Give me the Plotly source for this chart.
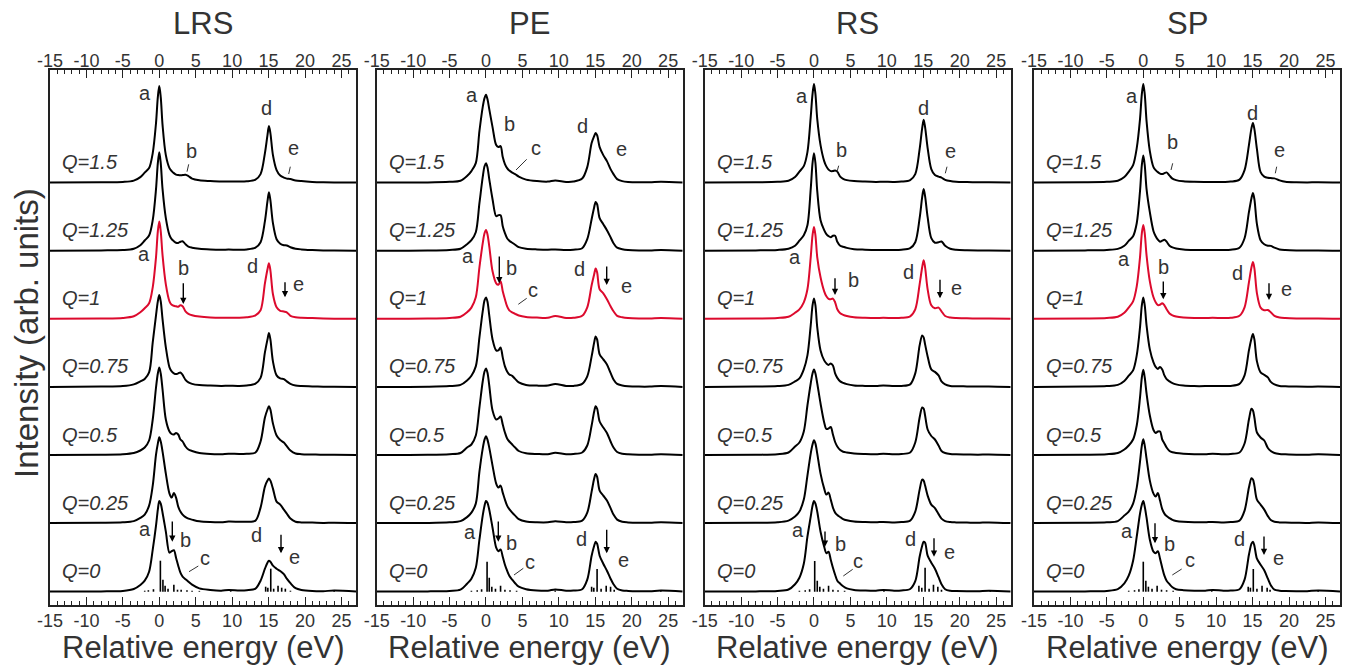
import plotly.graph_objects as go

# ---------------- data ----------------
E_GRID = [-15, -8, -5, -3.5, -2.6, -2.0, -1.4, -0.9, -0.45, -0.2,
          0.0, 0.2, 0.45, 0.9, 1.4, 1.7, 2.0, 2.3, 2.6, 2.9,
          3.2, 3.6, 4.0, 4.5, 5.5, 7.0, 8.5, 9.5, 11.0, 12.0,
          13.2, 13.9, 14.5, 14.85, 15.05, 15.25, 15.6, 16.1, 16.6, 17.1,
          17.5, 18.0, 18.7, 19.5, 21.0, 22.5, 24.0, 27.0]

Q_LABELS = ["Q=0", "Q=0.25", "Q=0.5", "Q=0.75", "Q=1", "Q=1.25", "Q=1.5"]
PANEL_TITLES = ["LRS", "PE", "RS", "SP"]
X_TICKS = [-15, -10, -5, 0, 5, 10, 15, 20, 25]

# LRS spectra (intensity, arb. units)
LRS_Q000 = [0.3, 0.3, 0.8, 2.7, 6.7, 11, 20, 42, 66, 82,
            90.7, 88, 79, 60, 39, 40.5, 41.5, 34, 26, 19,
            15, 12.5, 10, 7, 3.3, 1.7, 1, 1.8, 1.3, 1.5,
            3, 11, 23, 29, 31, 30, 26, 23, 20.7, 17.5,
            13, 8.5, 3.5, 1.7, 0.7, 0.5, 1.2, 0.3]
LRS_Q025 = [0.5, 0.8, 1.3, 2.5, 5.7, 9, 18, 38, 69, 80,
            86.3, 82, 72, 50, 30, 26, 30.5, 26, 17, 12,
            9, 6.5, 5, 4, 2.3, 1.5, 1.3, 2, 1.8, 1.8,
            3, 16, 37, 43, 45, 43, 35, 22, 19, 14,
            10, 5, 1.8, 1.2, 1, 0.7, 0.8, 0.5]
LRS_Q050 = [0.5, 0.8, 1.3, 2.5, 5, 8, 15, 36, 68, 82,
            88, 82, 66, 36, 24, 21.5, 21, 22.5, 21, 16,
            14, 9, 6, 4.5, 2.5, 1.5, 1.3, 1.8, 1.5, 1.8,
            3, 14, 38, 46, 49.3, 46, 32, 20, 15.5, 13,
            9.3, 5, 2, 1.3, 1, 0.7, 0.7, 0.5]
LRS_Q075 = [0.5, 0.8, 1.3, 3, 6, 8.5, 15, 45, 72, 86,
            92.3, 86, 68, 40, 20, 16, 14, 13.3, 14, 15,
            12.5, 7.5, 5, 3.5, 2.3, 1.8, 1.5, 1.6, 1.5, 2,
            3.8, 9.5, 35, 48, 54.3, 48, 26, 12, 9, 8.3,
            6, 3.5, 1.8, 1.3, 1, 0.7, 0.6, 0.5]
LRS_Q100 = [0.5, 0.8, 1.3, 3, 7, 11, 16, 32, 62, 88,
            97.7, 88, 64, 35, 18, 14.5, 13.5, 13, 12.5, 14,
            13, 8, 5.5, 4, 2.7, 1.8, 1.5, 1.6, 1.5, 2,
            4, 9, 36, 50, 56, 49, 25, 12, 8.5, 7.8,
            7, 3.5, 2, 1.5, 1.2, 0.8, 0.6, 0.5]
LRS_Q125 = [0.5, 0.8, 1.2, 2.5, 6, 10.7, 15.7, 31, 62, 88,
            99, 88, 62, 33, 16, 12, 10, 8.5, 8.3, 9.5,
            10, 7, 4.5, 3.5, 2.5, 1.8, 1.5, 1.6, 1.5, 1.8,
            3.5, 9, 30, 50, 59, 51, 28, 12, 7.5, 6,
            5.7, 4, 2.5, 1.8, 1.2, 0.8, 0.6, 0.5]
LRS_Q150 = [0.5, 0.8, 1.2, 2.5, 6, 10.5, 15, 30, 60, 86,
            97, 86, 58, 28, 15, 12, 10, 8.5, 8, 7.8,
            8, 8.3, 7, 4.5, 2.8, 2, 1.5, 1.6, 1.5, 1.8,
            3.5, 9, 30, 48, 57, 50, 28, 13, 7.5, 5.5,
            4.5, 4, 2.7, 2, 1.2, 0.8, 0.6, 0.5]

# PE spectra
PE_Q000 = [0.3, 0.3, 0.8, 2, 8, 13, 24, 52, 76, 86,
           90.7, 89, 82, 64, 44, 40.5, 42.3, 35, 27, 21,
           16, 12, 8.5, 5, 2.5, 1.2, 1, 2.3, 1, 1.2,
           2.5, 12, 36, 46, 50, 48, 36, 28, 21, 13,
           7.5, 3, 1.3, 0.8, 0.5, 0.5, 1.2, 0.3]
PE_Q025 = [0.5, 0.7, 1.3, 2.5, 6.5, 11, 20, 52, 75, 84,
           87.3, 84, 76, 58, 40, 36, 38, 31, 24, 18,
           14.5, 11, 8, 4.5, 2, 1.3, 1.3, 2.3, 1.3, 1.5,
           3, 11, 32, 45, 49.7, 47, 33, 28, 23, 15.5,
           9, 4, 1.8, 1.2, 0.8, 0.8, 1.3, 0.5]
PE_Q050 = [0.5, 0.7, 1.3, 2.5, 8, 11, 20, 48, 74, 84,
           87, 83, 70, 45, 36, 37, 39, 31, 23, 17,
           14, 11, 8, 4.5, 2.2, 1.5, 1.3, 2.7, 1.3, 1.5,
           3, 10, 30, 44, 49.3, 47, 34, 28, 22.5, 14,
           8, 3.5, 1.8, 1.2, 0.8, 0.8, 1.3, 0.5]
PE_Q075 = [0.5, 0.7, 1.3, 2.5, 7, 11.7, 21, 50, 76, 87,
           90, 86, 72, 48, 37, 37, 40, 30, 21, 16,
           13, 11.5, 8.5, 5, 2.5, 1.8, 1.8, 3.5, 1.5, 1.5,
           3.5, 11, 31, 45, 51, 48, 33, 28, 23, 14.5,
           8, 3.5, 2, 1.2, 0.8, 0.8, 1.3, 0.5]
PE_Q100 = [0.5, 0.7, 1.3, 2.5, 7, 11.7, 22, 52, 76, 86,
           89.3, 85, 73, 48, 36, 34.5, 38, 28, 20, 13,
           9, 7, 5.5, 3.8, 2.3, 1.7, 1.5, 3.3, 1.3, 1.5,
           3.5, 12, 34, 45, 50.7, 47, 30, 26, 20, 13,
           8, 3.5, 2, 1.2, 0.8, 0.8, 1.3, 0.5]
PE_Q125 = [0.5, 0.7, 1.3, 2.5, 7, 11, 19, 48, 74, 85,
           88, 84, 72, 52, 35, 36, 36, 25, 18, 13,
           10.5, 8.5, 6.5, 4, 2.5, 1.8, 1.5, 1.7, 1.2, 1.5,
           3, 12, 32, 44, 49.3, 47, 33, 27, 21, 14,
           8, 3.5, 2, 1.2, 0.8, 0.8, 1.3, 0.5]
PE_Q150 = [0.5, 0.7, 1.3, 2.3, 7, 12, 20, 52, 76, 85,
           88.3, 84, 74, 56, 38, 36, 37, 26, 19, 15,
           12.5, 10.5, 9, 6.5, 3.5, 2, 1.5, 2.7, 1.2, 1.5,
           4.5, 16, 40, 47, 50, 48, 36, 28, 22, 14,
           9, 4, 2, 1.2, 0.8, 0.8, 1.3, 0.5]

# RS spectra
RS_Q000 = [0.3, 0.3, 0.8, 2.2, 7.5, 14, 28, 55, 75, 86,
           90.7, 88, 80, 60, 45, 38.5, 40, 32, 24, 17,
           11, 8, 5.5, 3.3, 1.8, 1.2, 1, 1.7, 1, 1.2,
           2.7, 10.5, 35, 46, 50, 49, 36, 29, 23, 14.5,
           7.5, 2.5, 1, 0.7, 0.5, 0.5, 1, 0.3]
RS_Q025 = [0.5, 0.8, 1.3, 3, 7, 12, 24, 48, 70, 79,
           83.3, 80, 70, 50, 35, 29, 31, 24, 16, 11,
           8.5, 6.5, 4.5, 3.3, 2, 1.5, 1.3, 1.7, 1.2, 1.5,
           3, 12, 34, 44, 43, 38, 28, 19, 15.5, 9.5,
           5, 2.5, 1.5, 1.2, 1, 0.8, 1.2, 0.5]
RS_Q050 = [0.5, 0.8, 1.3, 3, 9, 13, 24, 50, 72, 82,
           86, 82, 72, 52, 33, 26.5, 27, 28.5, 21, 13.5,
           9, 5.5, 3.8, 3, 2, 1.5, 1.3, 1.7, 1.3, 1.5,
           3, 13, 38, 48, 47, 40, 26, 19.5, 16, 10,
           4.5, 2.5, 1.5, 1.2, 1, 0.8, 1, 0.5]
RS_Q075 = [0.5, 0.8, 1.3, 2.5, 6, 9, 18, 32, 62, 82,
           89, 82, 60, 37, 27, 24, 22.5, 24, 22, 14,
           9.5, 6, 4.5, 3.3, 2, 1.5, 1.3, 1.8, 1.3, 1.5,
           3, 14, 42, 52, 50, 43, 31, 18, 15.5, 12,
           6, 3, 1.5, 1.2, 1, 0.8, 1, 0.5]
RS_Q100 = [0.5, 0.8, 1.3, 2.5, 6.5, 10, 17, 30, 62, 84,
           92.3, 84, 62, 42, 28, 23, 20.5, 20, 20.7, 17,
           10, 6, 4.5, 3.3, 2, 1.5, 1.3, 1.5, 1.3, 1.5,
           3, 10, 35, 52, 59, 52, 30, 14, 11, 11.7,
           8, 3.3, 1.8, 1.3, 1, 0.8, 0.8, 0.5]
RS_Q125 = [0.5, 0.8, 1.3, 2.5, 5.5, 10.5, 16, 26, 62, 88,
           98, 88, 60, 31, 21, 17, 15, 14, 15.5, 15.5,
           9.5, 5.5, 4.5, 3.3, 2, 1.5, 1.2, 1.3, 1.2, 1.5,
           3, 9, 33, 54, 62.3, 55, 34, 13, 8.5, 9,
           9.7, 5.5, 2.5, 1.5, 1, 0.8, 0.8, 0.5]
RS_Q150 = [0.5, 0.8, 1.3, 2.3, 6, 11.5, 17, 31, 66, 89,
           99, 89, 64, 38, 22, 16.7, 13.5, 12, 12, 12.7,
           11.5, 6.5, 4.3, 3, 2, 1.5, 1.2, 1.3, 1.2, 1.5,
           3, 9, 34, 55, 63.3, 56, 35, 14, 8, 6.5,
           5.5, 3.3, 2, 1.3, 1, 0.8, 0.8, 0.5]

# SP spectra
SP_Q000 = [0.3, 0.3, 0.8, 2.5, 8.3, 16, 31, 55, 78, 87,
           90.7, 85, 74, 52, 40, 38.5, 40.5, 33, 24, 16,
           11, 7.5, 4.5, 2.5, 1.5, 1, 1, 1.7, 1, 1.2,
           2.5, 12, 37, 48, 50, 46, 33, 27, 21.5, 13,
           6.5, 2, 1, 0.7, 0.5, 0.5, 1.3, 0.3]
SP_Q025 = [0.5, 0.8, 1.3, 2.5, 8, 12, 20, 36, 62, 78,
           84.3, 78, 65, 43, 30, 27, 30.5, 23, 14.5, 10,
           7.5, 5.5, 3.8, 2.7, 1.8, 1.3, 1.3, 1.7, 1.2, 1.5,
           3, 13, 36, 45.3, 44, 38, 24, 19, 14, 7.5,
           3.5, 1.8, 1.2, 1, 0.8, 0.7, 1.2, 0.5]
SP_Q050 = [0.5, 0.8, 1.3, 2.5, 6, 10, 16, 30, 58, 78,
           85.7, 78, 62, 40, 25.5, 22.5, 24, 24, 16, 12,
           8, 4.5, 3.2, 2.5, 1.8, 1.3, 1.3, 1.7, 1.3, 1.5,
           3, 12, 36, 46.7, 45, 38, 23, 18, 15, 7.5,
           4.5, 2.5, 1.5, 1.2, 0.8, 0.7, 1.2, 0.5]
SP_Q075 = [0.5, 0.8, 1.3, 2.5, 6.5, 11.7, 17, 32, 60, 82,
           90, 82, 62, 38, 25, 20.5, 18.5, 20.5, 18, 12,
           8.3, 6, 4.3, 3, 1.8, 1.3, 1.3, 1.5, 1.3, 1.5,
           3.5, 12, 37, 49, 53.3, 48, 26, 15, 12.5, 10,
           5.5, 3, 1.5, 1.2, 0.8, 0.7, 0.8, 0.5]
SP_Q100 = [0.5, 0.8, 1.3, 2.5, 6.5, 11.7, 18, 33, 62, 86,
           94.3, 86, 64, 38, 22, 17, 14.2, 14.5, 16, 14,
           10, 5.8, 4, 2.8, 1.8, 1.3, 1.3, 1.5, 1.3, 1.5,
           3.5, 12, 37, 52, 57.3, 51, 26, 11.7, 9, 9.3,
           7, 3.5, 1.8, 1.2, 0.8, 0.7, 0.8, 0.5]
SP_Q125 = [0.5, 0.8, 1.3, 2.3, 5.5, 10.3, 15, 28, 60, 86,
           95.7, 86, 62, 39, 20, 15, 11.5, 9.5, 10.5, 11.5,
           9.5, 5.5, 3.8, 2.8, 1.8, 1.3, 1.2, 1.3, 1.2, 1.5,
           3.5, 13, 39, 53, 58.3, 52, 27, 11, 7, 5.5,
           5.3, 3.5, 1.8, 1.2, 0.8, 0.7, 0.8, 0.5]
SP_Q150 = [0.5, 0.8, 1.3, 2.3, 6, 11.3, 18, 35, 64, 89,
           99, 89, 62, 32, 16, 13, 11, 9.5, 9, 10,
           10.7, 7.5, 4.5, 3, 1.8, 1.3, 1.2, 1.2, 1.2, 1.5,
           3.5, 13, 38, 55, 60, 54, 34, 11, 6.5, 5.3,
           5, 4.7, 2.7, 1.3, 0.8, 0.7, 0.8, 0.5]

# stick spectra (Q=0)
LRS_STICK_E = [-2.0, -1.5, -0.8, 0.15, 0.5, 0.8, 1.2, 2.0, 2.5, 3.0, 3.8, 4.5, 5.5, 9.8,
               14.6, 14.9, 15.3, 15.7, 16.3, 16.8, 17.3, 18.0, 24.0]
LRS_STICK_H = [1, 1.5, 2.5, 31, 12, 6, 3, 7, 2, 2, 1.5, 1, 0.8, 1.5,
               5, 4, 23, 3, 6, 4, 3, 1, 1]
PE_STICK_E = [-2.0, -1.2, -0.6, 0.15, 0.45, 0.8, 1.3, 2.0, 2.6, 3.3, 4.2, 9.5,
              14.5, 14.8, 15.25, 15.8, 16.5, 17.1, 17.6, 24.0]
PE_STICK_H = [1, 1.5, 2.5, 30, 14, 5, 3, 6, 2, 1.5, 1, 1.2,
              5, 4, 22.7, 3, 6, 5, 2, 1]
RS_STICK_E = [-2.0, -1.2, -0.6, 0.1, 0.45, 0.8, 1.3, 2.0, 2.6, 3.3, 4.2, 9.6,
              14.4, 14.8, 15.25, 15.8, 16.4, 17.0, 17.5, 24.2]
RS_STICK_H = [1, 1.5, 2.5, 30.7, 11, 5, 3, 6, 2, 1.5, 1, 1.2,
              6, 4, 24, 3, 7, 5, 2, 1]
SP_STICK_E = [-2.0, -1.2, -0.6, 0.0, 0.35, 0.7, 1.2, 1.9, 2.5, 3.2, 4.1, 9.4,
              14.4, 14.7, 15.1, 15.6, 16.3, 17.0, 17.4, 24.0]
SP_STICK_H = [1, 1.5, 2.5, 30, 11, 5, 3, 6, 2, 1.5, 1, 1.2,
              5, 4, 22.7, 3, 6, 4, 2, 1]

PANELS = [
    ("LRS", [LRS_Q000, LRS_Q025, LRS_Q050, LRS_Q075, LRS_Q100, LRS_Q125, LRS_Q150], LRS_STICK_E, LRS_STICK_H),
    ("PE", [PE_Q000, PE_Q025, PE_Q050, PE_Q075, PE_Q100, PE_Q125, PE_Q150], PE_STICK_E, PE_STICK_H),
    ("RS", [RS_Q000, RS_Q025, RS_Q050, RS_Q075, RS_Q100, RS_Q125, RS_Q150], RS_STICK_E, RS_STICK_H),
    ("SP", [SP_Q000, SP_Q025, SP_Q050, SP_Q075, SP_Q100, SP_Q125, SP_Q150], SP_STICK_E, SP_STICK_H),
]
for _t, _c, _se, _sh in PANELS:
    for _arr in _c:
        assert len(_arr) == len(E_GRID), (_t, len(_arr))
    assert len(_se) == len(_sh), _t

# ---------------- layout / style ----------------
W, H = 1359, 666
PANEL_LEFT = [50, 376.7, 704.7, 1034]
PANEL_W = 306
BOX_TOP, BOX_BOT = 70, 605
BASE0 = 591.7          # pixel row of Q=0 baseline
STEP = 68.1            # vertical offset between spectra
Y_RANGE = [-(BOX_BOT - BASE0), BASE0 - BOX_TOP]
FONT = "Liberation Sans, Arial, sans-serif"
TXT = "#333333"
AX = "#222222"
RED = "#dc0a2d"


def pp(x, y):
    return x / W, 1 - y / H


# label placements (pixels): letters, arrows (x, y_tail, y_head), short leader lines
LETTERS = [
    [("a", 145, 95), ("b", 191.7, 152.3), ("d", 266.7, 109.3), ("e", 293.3, 149),
     ("a", 144.3, 255), ("b", 183.3, 269.3), ("d", 252.3, 267.3), ("e", 298.3, 285),
     ("a", 145, 530), ("b", 185.7, 541.7), ("c", 205, 559.3), ("d", 256.7, 536.7), ("e", 294.3, 558.3)],
    [("a", 471.7, 96.7), ("b", 509, 125), ("c", 535.7, 149), ("d", 582.7, 127.3), ("e", 621.7, 150),
     ("a", 467.7, 257.3), ("b", 511.7, 269.3), ("c", 533.3, 291), ("d", 579, 270), ("e", 626.7, 287.3),
     ("a", 470, 533.3), ("b", 511.7, 544.3), ("c", 530, 563.3), ("d", 581.7, 540), ("e", 623.3, 561.7)],
    [("a", 802.3, 97.7), ("b", 841.7, 151.7), ("d", 923.3, 109.3), ("e", 950, 152.7),
     ("a", 795, 258.3), ("b", 853.3, 281.7), ("d", 908.3, 273.3), ("e", 956.7, 289.3),
     ("a", 798.3, 531.7), ("b", 840, 545), ("c", 858.3, 562.7), ("d", 911, 540), ("e", 949.3, 553.3)],
    [("a", 1131.7, 97.7), ("b", 1172.7, 143.3), ("d", 1252.3, 114.3), ("e", 1279.3, 151.7),
     ("a", 1124.3, 260), ("b", 1163.3, 268.3), ("d", 1237.7, 274), ("e", 1286, 290),
     ("a", 1127.3, 532.7), ("b", 1169.3, 545), ("c", 1190, 561.7), ("d", 1239.3, 540), ("e", 1278.3, 559.3)],
]
ARROWS = [
    [(183.3, 281.7, 304), (285, 280.7, 297.3), (172.3, 520, 541.7), (281, 533.3, 553.3)],
    [(499.3, 255, 283.3), (606.7, 265, 285), (498.3, 520, 541.7), (606.7, 528.3, 553.3)],
    [(835, 276.7, 295), (940, 278.3, 298.3), (825, 530, 546.7), (934, 536.7, 556.7)],
    [(1163.3, 280, 299.3), (1269, 281.7, 300), (1155, 521.7, 543.3), (1264, 535, 555)],
]
LEADERS = [
    [(187, 171.7, 188.7, 164.3), (288.7, 174, 290.3, 166.7), (189, 571.7, 198.3, 566)],
    [(516, 170, 526.7, 159.3), (518.3, 304.3, 526.7, 298.3), (514, 575, 523.3, 568.3)],
    [(837, 171.7, 838.7, 165.7), (945.3, 173.3, 947, 166.7), (843.3, 576, 852.7, 569.3)],
    [(1171, 170, 1172.7, 163.3), (1275.3, 173.3, 1276.7, 166.7), (1172.3, 575, 1181.7, 569)],
]

fig = go.Figure()
annotations = []
shapes = []
layout_axes = {}


def text_ann(text, x_px, y_px, size, angle=0, yanchor="middle"):
    ax_, ay_ = pp(x_px, y_px)
    return dict(text=text, x=ax_, y=ay_, xref="paper", yref="paper", showarrow=False,
                xanchor="center", yanchor=yanchor, textangle=angle, borderpad=0,
                font=dict(family=FONT, size=size, color=TXT))


for p, (title, curves, se, sh) in enumerate(PANELS):
    nb, nt, ny = 2 * p + 1, 2 * p + 2, p + 1
    xb, xt, yy = f"x{nb}", f"x{nt}", f"y{ny}"
    for i, vals in enumerate(curves):
        off = i * STEP
        fig.add_trace(go.Scatter(
            x=E_GRID, y=[off + v for v in vals], mode="lines",
            line=dict(color=RED if i == 4 else "black", width=2, shape="spline", smoothing=0.9),
            xaxis=xb, yaxis=yy, showlegend=False, hoverinfo="skip"))
    sx, sy = [], []
    for e, h in zip(se, sh):
        sx += [e, e, None]
        sy += [0, h, None]
    fig.add_trace(go.Scatter(x=sx, y=sy, mode="lines", line=dict(color="black", width=1.6),
                             xaxis=xt, yaxis=yy, showlegend=False, hoverinfo="skip"))

    left = PANEL_LEFT[p]
    dom = [left / W, (left + PANEL_W) / W]
    common = dict(
        range=[-15, 27], tickmode="array", tickvals=X_TICKS, ticktext=[str(v) for v in X_TICKS],
        ticks="inside", ticklen=8, tickwidth=1, tickcolor=AX,
        showline=True, linecolor=AX, linewidth=1.5, showgrid=False, zeroline=False,
        tickfont=dict(family=FONT, size=18, color=TXT), automargin=False,
        minor=dict(tickmode="linear", tick0=-15, dtick=1, ticks="inside", ticklen=4,
                   tickwidth=1, tickcolor=AX, showgrid=False),
        domain=dom, fixedrange=True,
    )
    layout_axes["xaxis" if nb == 1 else f"xaxis{nb}"] = dict(common, anchor=yy, side="bottom",
                                                             ticklabelstandoff=-1)
    layout_axes[f"xaxis{nt}"] = dict(common, anchor=yy, side="top", overlaying=xb,
                                     ticklabelstandoff=-6)
    layout_axes["yaxis" if ny == 1 else f"yaxis{ny}"] = dict(
        domain=[1 - BOX_BOT / H, 1 - BOX_TOP / H], range=Y_RANGE, anchor=xb,
        showline=True, linecolor=AX, linewidth=1.5, mirror=True, ticks="",
        showticklabels=False, showgrid=False, zeroline=False, fixedrange=True, automargin=False)

    cx = left + PANEL_W / 2
    annotations.append(text_ann(title, cx, 24, 31))
    annotations.append(text_ann("Relative energy (eV)", cx, 666, 31, yanchor="bottom"))
    # Q labels
    for i, q in enumerate(Q_LABELS):
        annotations.append(dict(text=f"<i>{q}</i>", x=-13.6, y=i * STEP + 21, xref=xb, yref=yy,
                                xanchor="left", yanchor="middle", showarrow=False,
                                font=dict(family=FONT, size=20, color=TXT)))
    for (t, lx, ly) in LETTERS[p]:
        annotations.append(text_ann(t, lx, ly - 1.5, 20))
    for (axp, yt, yh) in ARROWS[p]:
        hx, hy = pp(axp, yh)
        annotations.append(dict(text="", x=hx, y=hy, xref="paper", yref="paper", showarrow=True,
                                ax=0, ay=yt - yh, arrowhead=2, arrowsize=0.9, arrowwidth=1.4,
                                arrowcolor="black", standoff=0))
    for (x0, y0, x1, y1) in LEADERS[p]:
        a0, b0 = pp(x0, y0)
        a1, b1 = pp(x1, y1)
        shapes.append(dict(type="line", xref="paper", yref="paper", x0=a0, y0=b0, x1=a1, y1=b1,
                           line=dict(color="#333333", width=1)))

annotations.append(text_ann("Intensity (arb. units)", 26, 333, 33, angle=-90))

fig.update_layout(
    template="none",
    width=W, height=H,
    margin=dict(l=0, r=0, t=0, b=0, pad=0, autoexpand=False),
    paper_bgcolor="white", plot_bgcolor="white",
    annotations=annotations, shapes=shapes, showlegend=False,
    **layout_axes,
)

fig.write_html("out.html", config={"responsive": False})
